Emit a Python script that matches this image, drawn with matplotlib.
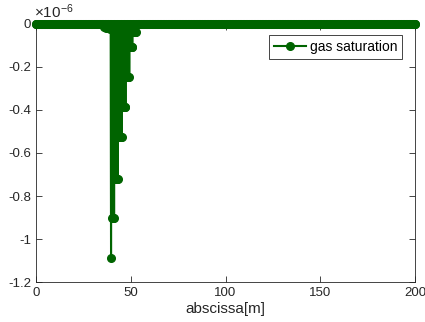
import numpy as np
import matplotlib
matplotlib.use('Agg')
from matplotlib import pyplot as plt

plt.rcParams['font.family'] = ['Liberation Sans', 'DejaVu Sans']
plt.rcParams['mathtext.default'] = 'regular'

# grid of cell centres along the abscissa [m]
abscissa = np.arange(0, 200.2, 0.2)

# non-zero gas saturation values (units of 1e-6)
dip_x = [36.0, 37.2, 38.4, 39.2,
         39.6,
         40.0, 40.4, 40.8, 41.2,
         41.6, 42.0, 42.4, 42.8, 43.2,
         43.6, 44.0, 44.4, 44.8, 45.2,
         45.6, 46.0, 46.4, 46.8, 47.2,
         47.6, 48.0, 48.4, 48.8, 49.2,
         49.6, 50.0, 50.4, 50.8,
         51.2, 51.6, 52.0, 52.4, 52.8]
dip_y = [-0.012, -0.018, -0.02, -0.025,
         -1.09,
         -0.90, -0.90, -0.90, -0.90,
         -0.72, -0.72, -0.72, -0.72, -0.72,
         -0.527, -0.527, -0.527, -0.527, -0.527,
         -0.385, -0.385, -0.385, -0.385, -0.385,
         -0.245, -0.245, -0.245, -0.245, -0.245,
         -0.108, -0.108, -0.108, -0.108,
         -0.035, -0.035, -0.035, -0.035, -0.035]

saturation = np.zeros_like(abscissa)
for xv, yv in zip(dip_x, dip_y):
    saturation[np.argmin(np.abs(abscissa - xv))] = yv

green = '#006400'

fig = plt.figure(figsize=(4.25, 3.22), dpi=100)
ax = fig.add_axes([0.0847, 0.1242, 0.8918, 0.8013])

ax.plot(abscissa, saturation, color=green, lw=1.5, marker='o', ms=5.5,
        label='gas saturation', zorder=3, clip_on=False)

ax.set_xlim(0, 200)
ax.set_ylim(-1.2, 0)
ax.set_xticks([0, 50, 100, 150, 200])
ax.set_yticks([0, -0.2, -0.4, -0.6, -0.8, -1, -1.2])
ax.set_yticklabels(['0', '-0.2', '-0.4', '-0.6', '-0.8', '-1', '-1.2'])
ax.tick_params(direction='in', length=4, width=0.6, labelsize=9.5,
               top=True, right=True, colors='#262626')
for s in ax.spines.values():
    s.set_linewidth(0.6)
    s.set_color('#262626')

ax.set_xlabel('abscissa[m]', fontsize=11, labelpad=2, color='#262626')
ax.text(-0.005, 1.012, r'$\times10^{-6}$', transform=ax.transAxes,
        fontsize=11, ha='left', va='bottom', color='#262626')

leg = ax.legend(loc='upper right', bbox_to_anchor=(0.985, 0.985),
                fancybox=False, framealpha=1, edgecolor='#262626',
                fontsize=10, handlelength=2.3, borderpad=0.35,
                handletextpad=0.3)
leg.get_frame().set_linewidth(0.6)

fig.savefig('out.png', dpi=100)
